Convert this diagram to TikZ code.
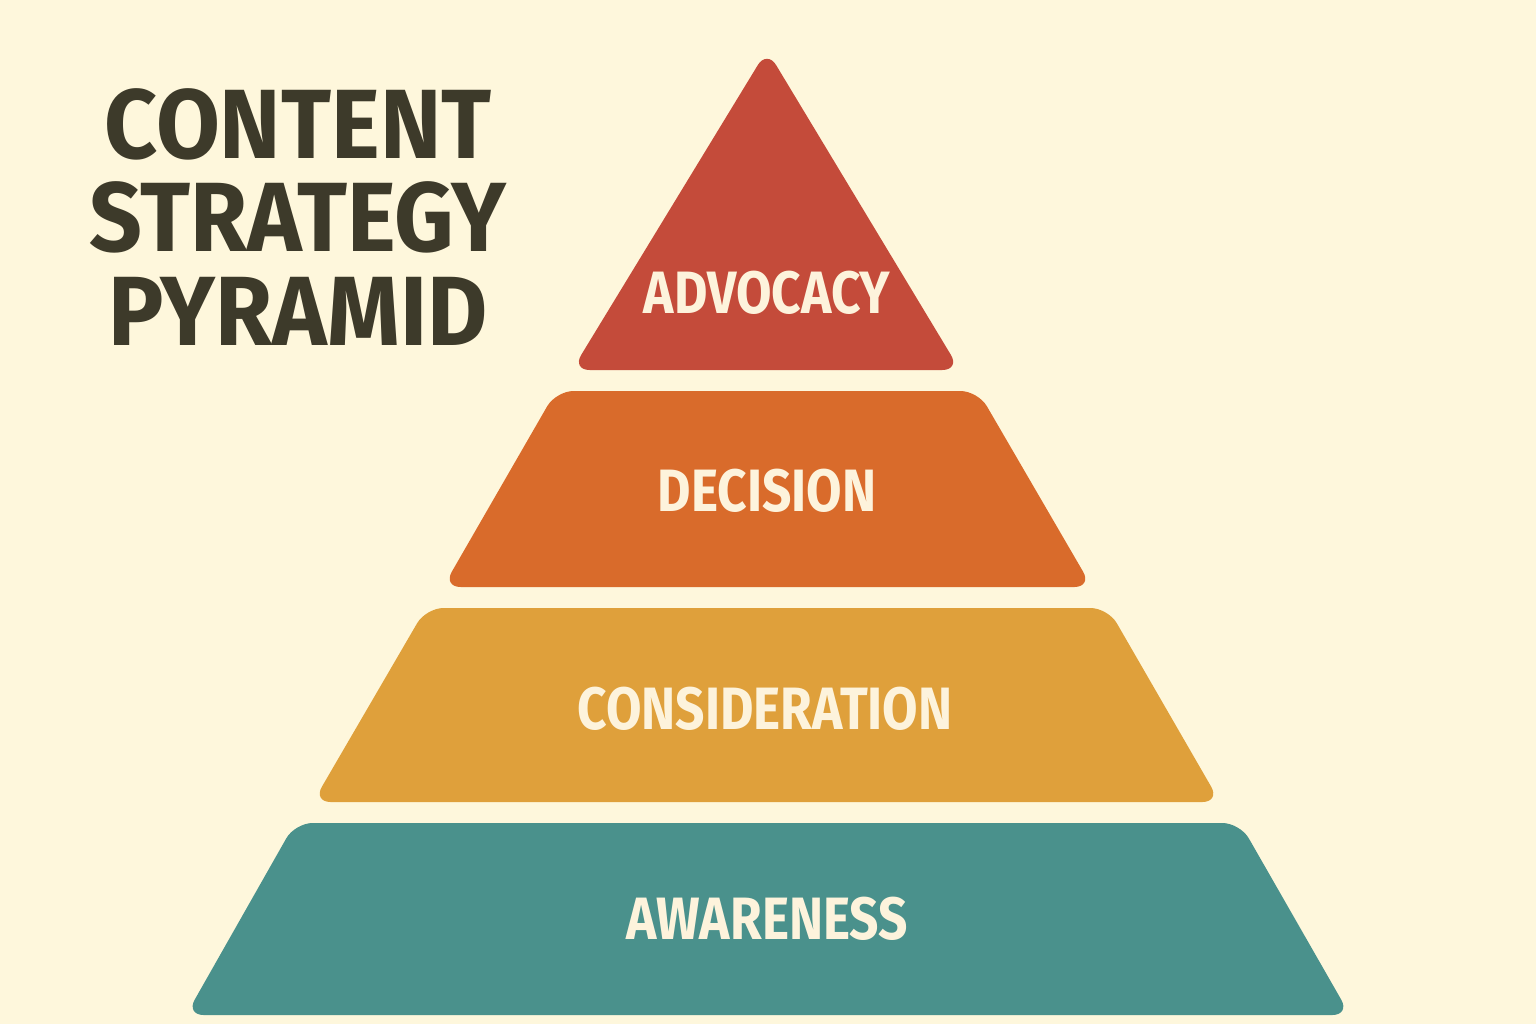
\documentclass[tikz,border=0pt]{standalone}
\usepackage{fontspec}
\setmainfont{Fira Sans}
\definecolor{bgcream}{HTML}{FEF7DC}
\definecolor{advred}{HTML}{C44B3A}
\definecolor{decorange}{HTML}{D96B2B}
\definecolor{conyellow}{HTML}{DFA03B}
\definecolor{awateal}{HTML}{4A918C}
\definecolor{titledark}{HTML}{3D3A2A}
\definecolor{labelcream}{HTML}{FDF3DC}
\tikzset{
  layer/.style={rounded corners=5pt},
  lab/.style={text=labelcream,font=\fontsize{17}{17}\selectfont\bfseries,xscale=0.86,transform shape},
  title/.style={text=titledark,font=\fontsize{28}{26.5}\selectfont\bfseries,align=center,xscale=0.94,transform shape}
}
\begin{document}
\begin{tikzpicture}[x=0.01cm,y=-0.01cm]
                \fill[bgcream] (0,0) rectangle (1536,1024);
                \useasboundingbox (0,0) rectangle (1536,1024);

                % layers, top to bottom
                \fill[layer,advred] (767,50) -- (960,370) -- (572,370) -- cycle;
                \fill[layer,decorange] (556,391) -- (978,391) -- (1092,587) -- (443,587) -- cycle;
                \fill[layer,conyellow] (426,608) -- (1108,608) -- (1220,802) -- (313,802) -- cycle;
                \fill[layer,awateal] (295,823) -- (1240,823) -- (1350,1015) -- (186,1015) -- cycle;

                \node[lab] (advocacy) at (767,293) {ADVOCACY};
                \node[lab] (decision) at (767,491) {DECISION};
                \node[lab] (consideration) at (765,709) {CONSIDERATION};
                \node[lab] (awareness) at (767,919) {AWARENESS};

                \node[title] (heading) at (298,217) {CONTENT\\STRATEGY\\PYRAMID};
\end{tikzpicture}
\end{document}
